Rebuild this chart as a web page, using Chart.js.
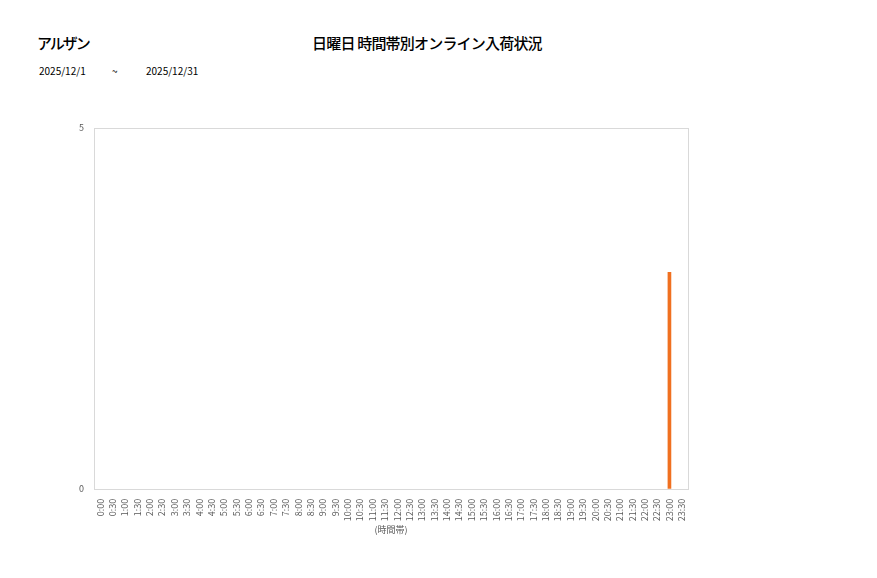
<!DOCTYPE html>
<html><head><meta charset="utf-8">
<script src="https://cdn.jsdelivr.net/npm/chart.js@4"></script>
<style>
html,body{margin:0;padding:0;background:#fff;}
#wrap{position:relative;width:877px;height:578px;font-family:"Noto Sans CJK JP","Noto Sans",sans-serif;}
.t{position:absolute;white-space:nowrap;color:#000;}
canvas{position:absolute;left:0;top:0;}
</style></head>
<body><div id="wrap">
<div class="t" style="left:37px;top:32px;font-size:15px;font-weight:500;letter-spacing:-2px;">アルザン</div>
<div class="t" style="left:312px;top:32px;font-size:15px;font-weight:500;letter-spacing:-0.8px;">日曜日 時間帯別オンライン入荷状況</div>
<div class="t" style="left:39px;top:63px;font-size:10px;">2025/12/1</div>
<div class="t" style="left:112px;top:63px;font-size:10px;">~</div>
<div class="t" style="left:146px;top:63px;font-size:10px;">2025/12/31</div>
<canvas id="c" width="877" height="578"></canvas>
</div>
<script>
const categories = ["0:00","0:30","1:00","1:30","2:00","2:30","3:00","3:30","4:00","4:30","5:00","5:30","6:00","6:30","7:00","7:30","8:00","8:30","9:00","9:30","10:00","10:30","11:00","11:30","12:00","12:30","13:00","13:30","14:00","14:30","15:00","15:30","16:00","16:30","17:00","17:30","18:00","18:30","19:00","19:30","20:00","20:30","21:00","21:30","22:00","22:30","23:00","23:30"];
const arrivals = [0,0,0,0,0,0,0,0,0,0,0,0,0,0,0,0,0,0,0,0,0,0,0,0,0,0,0,0,0,0,0,0,0,0,0,0,0,0,0,0,0,0,0,0,0,0,3,0];
const yTicks = [0,5];
const xAxisTitle = "(時間帯)";

const frame = {
  id:'frame',
  afterDraw(chart){
    const a = chart.chartArea, ctx = chart.ctx;
    ctx.save();
    ctx.strokeStyle = '#d9d9d9';
    ctx.lineWidth = 1;
    ctx.strokeRect(Math.round(a.left)+0.5, Math.round(a.top)+0.5, Math.round(a.right-a.left), Math.round(a.bottom-a.top));
    ctx.restore();
  }
};

new Chart(document.getElementById('c'), {
  type:'bar',
  data:{labels:categories, datasets:[{data:arrivals,
    backgroundColor:(c)=> (c.raw ? '#f07020' : 'rgba(0,0,0,0)'), barThickness:3}]},
  options:{
    responsive:false, animation:false,
    layout:{padding:{left:77,right:189,top:128,bottom:39}},
    plugins:{legend:{display:false}, tooltip:{enabled:false}},
    scales:{
      x:{
        grid:{display:false}, border:{display:false},
        ticks:{autoSkip:false, maxRotation:90, minRotation:90, color:'#595959', font:{size:9, family:'"Noto Sans CJK JP"'}, padding:2},
        title:{display:true, text:xAxisTitle, color:'#595959', font:{size:9, family:'"Noto Sans CJK JP"'}, padding:{top:1}}
      },
      y:{
        min:0, max:5,
        afterBuildTicks(s){ s.ticks = yTicks.map(v=>({value:v})); },
        grid:{display:false}, border:{display:false},
        ticks:{color:'#595959', font:{size:9, family:'"Noto Sans CJK JP"'}, padding:2}
      }
    }
  },
  plugins:[frame]
});
</script>
</body></html>
